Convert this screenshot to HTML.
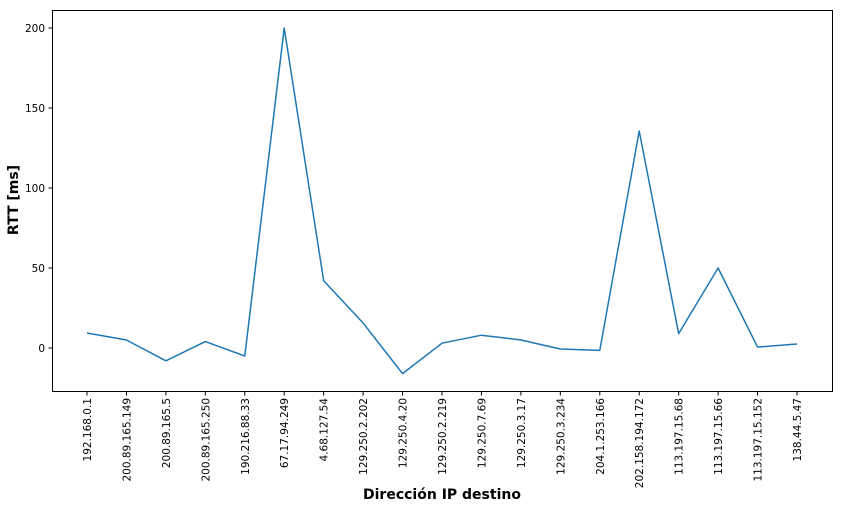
<!DOCTYPE html>
<html><head><meta charset="utf-8"><style>
body{margin:0;background:#fff;}
svg{display:block;font-family:"DejaVu Sans","Liberation Sans",sans-serif;}
</style></head><body>
<svg id="chart" width="843" height="509"></svg>
<script>
const categories=["192.168.0.1","200.89.165.149","200.89.165.5","200.89.165.250","190.216.88.33","67.17.94.249","4.68.127.54","129.250.2.202","129.250.4.20","129.250.2.219","129.250.7.69","129.250.3.17","129.250.3.234","204.1.253.166","202.158.194.172","113.197.15.68","113.197.15.66","113.197.15.152","138.44.5.47"];
const rttValues=[9.4,5,-8,4,-5,200,42,15.6,-16,3,8,5,-0.6,-1.5,135.6,9,50,0.6,2.5];
const yTicks=[0,50,100,150,200];
const NS="http://www.w3.org/2000/svg";
const svg=document.getElementById("chart");
const L=52,R=832,T=10,B=391;
const x0=87,x1=797;
function xs(i){return x0+i*(x1-x0)/(categories.length-1);}
function ys(v){return 348-v*1.6;}
function mk(t,a,p){const e=document.createElementNS(NS,t);for(const k in a)e.setAttribute(k,a[k]);(p||svg).appendChild(e);return e;}
const frame=mk("rect",{x:L+0.5,y:T+0.5,width:R-L,height:B-T,fill:"none",stroke:"#000","stroke-width":1});


yTicks.forEach(v=>{
  const y=ys(v);
  const tk=mk("line",{x1:L-3.5,x2:L+0.5,y1:y,y2:y,stroke:"#000"});
  
  
  const t=mk("text",{x:L-7,y:y+4,"font-size":"10.5","text-anchor":"end",fill:"#000"});
  t.textContent=v;
  
  
});
categories.forEach((c,i)=>{
  const x=xs(i);
  const tk=mk("line",{x1:x,x2:x,y1:B+0.5,y2:B+4.5,stroke:"#000"});
  
  
  const t=mk("text",{x:0,y:0,"font-size":"10.5","text-anchor":"end",fill:"#000",transform:`translate(${x+4},${B+7}) rotate(-90)`});
  t.textContent=c;
  
  
});
const line=mk("polyline",{points:rttValues.map((v,i)=>xs(i)+","+ys(v)).join(" "),fill:"none",stroke:"#1f77b4","stroke-width":1.5,"stroke-linejoin":"round"});


const yt=mk("text",{x:0,y:0,"font-size":"14","font-weight":"bold","text-anchor":"middle",transform:"translate(18,200) rotate(-90)"});
yt.textContent="RTT [ms]";


const xt=mk("text",{x:442,y:499,"font-size":"14","font-weight":"bold","text-anchor":"middle"});
xt.textContent="Dirección IP destino";


</script>
</body></html>
